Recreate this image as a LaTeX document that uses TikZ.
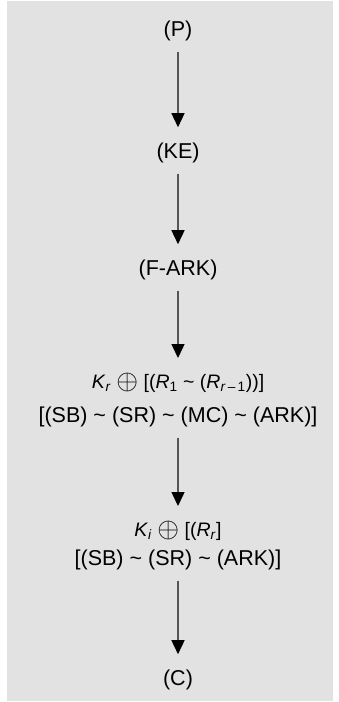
\documentclass[tikz,border=0pt]{standalone}
\usepackage{fontspec}
\setmainfont{Liberation Sans}
\usepackage{tikz}
\usetikzlibrary{arrows.meta,positioning}
\definecolor{panelgray}{RGB}{226,226,226}
\definecolor{flowgray}{RGB}{85,85,85}
% larger xor sign for the round lines
\newcommand{\bigxor}{\raisebox{-0.15ex}{\scalebox{1.35}{$\oplus$}}}

\begin{document}
\begin{tikzpicture}[x=1pt,y=-1pt,
    stage/.style={anchor=base, inner sep=0pt, font=\fontsize{21.5}{26}\selectfont},
    mathstage/.style={anchor=base, inner sep=0pt, font=\fontsize{19.5}{24}\selectfont},
    flow/.style={draw=flowgray, line width=1.4pt,
      -{Triangle[width=13pt,length=14pt,color=black,fill=black]},
      shorten <=11pt, shorten >=15pt}]
  \def\cx{178}

  % page and grey panel
  \useasboundingbox (0,0) rectangle (339,702);
  \fill[panelgray] (7,1) rectangle (333,701);

  % cipher stages, top to bottom
  \node[stage] (plain) at (\cx,36) {(P)};
  \node[stage] (keyexp) at (\cx,158) {(KE)};
  \node[stage] (fark) at (\cx,275) {(F-ARK)};
  \node[mathstage] (rounds) at (\cx,388)
    {\textit{K}\textsubscript{\textit{r}} \bigxor{} [(\textit{R}\textsubscript{1} \textasciitilde{} (\textit{R}\textsubscript{\textit{r}\,--\,1}))]};
  \node[stage] (roundops) at (\cx,422) {[(SB) \textasciitilde{} (SR) \textasciitilde{} (MC) \textasciitilde{} (ARK)]};
  \node[mathstage] (last) at (\cx,536)
    {\textit{K}\textsubscript{\textit{i}} \bigxor{} [(\textit{R}\textsubscript{\textit{r}}]};
  \node[stage] (lastops) at (\cx,565) {[(SB) \textasciitilde{} (SR) \textasciitilde{} (ARK)]};
  \node[stage] (cipher) at (\cx,685) {(C)};

  % arrows
  \draw[flow] (plain) -- (keyexp);
  \draw[flow] (keyexp) -- (fark);
  \draw[flow] (fark) -- (rounds);
  \draw[flow] (roundops) -- (last);
  \draw[flow] (lastops) -- (cipher);
\end{tikzpicture}
\end{document}
